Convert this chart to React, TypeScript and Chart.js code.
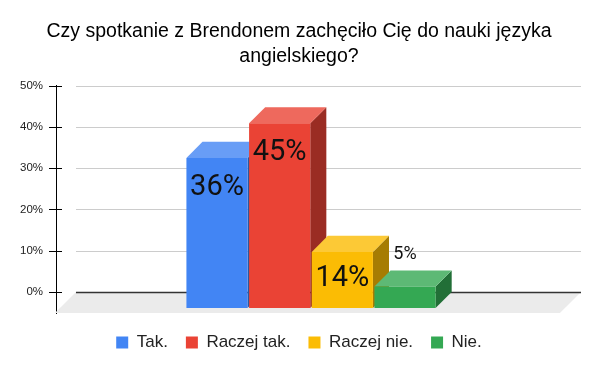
import React, { useEffect, useRef } from 'react';
import { Chart, registerables } from 'chart.js';

Chart.register(...registerables);

const TITLE_LINES = ['Czy spotkanie z Brendonem zachęciło Cię do nauki języka', 'angielskiego?'];
const CATEGORIES = [''];
const SERIES_NAMES = ['Tak.', 'Raczej tak.', 'Raczej nie.', 'Nie.'];
const SERIES_VALUES = [36.4, 44.8, 13.6, 5.2];
const SERIES_COLORS = ['#4285F4', '#EA4335', '#FBBC04', '#34A853'];
const TICK_VALUES = [0, 10, 20, 30, 40, 50];

const Y_MIN = -5.1;
const Y_MAX = 50;
const DEPTH_PCT = 3.9;

function hexToRgb(hex: string) {
  const h = hex.replace('#', '');
  return [parseInt(h.slice(0, 2), 16), parseInt(h.slice(2, 4), 16), parseInt(h.slice(4, 6), 16)];
}
function shade(hex: string, f: number) {
  const [r, g, b] = hexToRgb(hex);
  return `rgb(${Math.round(r * f)},${Math.round(g * f)},${Math.round(b * f)})`;
}
function tint(hex: string, f: number) {
  const [r, g, b] = hexToRgb(hex);
  return `rgb(${Math.round(r + (255 - r) * f)},${Math.round(g + (255 - g) * f)},${Math.round(b + (255 - b) * f)})`;
}

const threeD = {
  id: 'threeD',
  beforeDatasetsDraw(chart: any) {
    const { ctx, chartArea: ca, scales } = chart;
    const y = scales.y;
    const yf = scales.yf;
    const y0 = y.getPixelForValue(0);
    const floorDepth = ca.bottom - y0;
    const backL = ca.left + 20;
    const backR = ca.right + 15;
    ctx.save();
    // floor
    ctx.fillStyle = '#ebebeb';
    ctx.beginPath();
    ctx.moveTo(backL - floorDepth, ca.bottom);
    ctx.lineTo(backR - floorDepth, ca.bottom);
    ctx.lineTo(backR, y0);
    ctx.lineTo(backL, y0);
    ctx.closePath();
    ctx.fill();
    // grid lines and tick marks
    TICK_VALUES.forEach((v) => {
      const py = Math.round(y.getPixelForValue(v)) + 0.5;
      if (v !== 0) {
        ctx.strokeStyle = '#cccccc';
        ctx.lineWidth = 1;
        ctx.beginPath();
        ctx.moveTo(backL, py);
        ctx.lineTo(backR, py);
        ctx.stroke();
      }
      ctx.strokeStyle = '#000';
      ctx.lineWidth = 1;
      ctx.beginPath();
      ctx.moveTo(ca.left - 7, py);
      ctx.lineTo(ca.left + 6, py);
      ctx.stroke();
    });
    // zero line
    const pz = Math.round(y0) + 0.5;
    ctx.strokeStyle = '#333';
    ctx.lineWidth = 1.4;
    ctx.beginPath();
    ctx.moveTo(backL, pz);
    ctx.lineTo(backR, pz);
    ctx.stroke();
    // bar sides and tops
    const d = yf.getPixelForValue(0) - y0;
    chart.data.datasets.forEach((ds: any, i: number) => {
      const meta = chart.getDatasetMeta(i);
      meta.data.forEach((bar: any) => {
        const p = bar.getProps(['x', 'y', 'base', 'width'], true);
        const l = p.x - p.width / 2;
        const r = p.x + p.width / 2;
        const t = p.y;
        const b = p.base;
        ctx.fillStyle = shade(SERIES_COLORS[i], 0.66);
        ctx.beginPath();
        ctx.moveTo(r, t);
        ctx.lineTo(r + d, t - d);
        ctx.lineTo(r + d, b - d);
        ctx.lineTo(r, b);
        ctx.closePath();
        ctx.fill();
        ctx.fillStyle = tint(SERIES_COLORS[i], 0.2);
        ctx.beginPath();
        ctx.moveTo(l, t);
        ctx.lineTo(r, t);
        ctx.lineTo(r + d, t - d);
        ctx.lineTo(l + d, t - d);
        ctx.closePath();
        ctx.fill();
      });
    });
    ctx.restore();
  },
  afterDatasetsDraw(chart: any) {
    const { ctx, scales } = chart;
    const d = scales.yf.getPixelForValue(0) - scales.y.getPixelForValue(0);
    ctx.save();
    ctx.textAlign = 'center';
    ctx.textBaseline = 'middle';
    ctx.fillStyle = '#111';
    chart.data.datasets.forEach((ds: any, i: number) => {
      const meta = chart.getDatasetMeta(i);
      meta.data.forEach((bar: any, j: number) => {
        const p = bar.getProps(['x', 'y', 'base'], true);
        const text = Math.round(ds.data[j]) + '%';
        const h = p.base - p.y;
        if (h >= 40) {
          ctx.font = '29px Roboto';
          const cy = Math.min(p.y + 30, (p.y + p.base) / 2 - 1);
          ctx.fillText(text, p.x, cy);
        } else {
          ctx.font = '18px Roboto';
          ctx.fillText(text, p.x, p.y - d - 16);
        }
      });
    });
    ctx.restore();
  },
};

export default function App() {
  const ref = useRef<HTMLCanvasElement | null>(null);
  useEffect(() => {
    document.body.style.margin = '0';
    const chart = new Chart(ref.current as HTMLCanvasElement, {
      type: 'bar',
      data: {
        labels: CATEGORIES,
        datasets: SERIES_NAMES.map((name, i) => ({
          label: name,
          data: [SERIES_VALUES[i]],
          backgroundColor: SERIES_COLORS[i],
          borderWidth: 0,
          yAxisID: 'yf',
          categoryPercentage: 0.4915,
          barPercentage: 0.976,
        })),
      },
      options: {
        animation: false,
        responsive: true,
        maintainAspectRatio: false,
        layout: { padding: { left: 8, right: 10, top: 0, bottom: 10 } },
        plugins: {
          title: {
            display: true,
            text: TITLE_LINES,
            color: '#000',
            font: { family: "'Liberation Sans', Arial, sans-serif", size: 19.5, weight: 'normal', lineHeight: 1.3 },
            padding: { top: 19, bottom: 16 },
          },
          legend: {
            position: 'bottom',
            labels: {
              boxWidth: 12,
              boxHeight: 12,
              padding: 18,
              color: '#222',
              font: { family: "'Liberation Sans', Arial, sans-serif", size: 17 },
            },
          },
          tooltip: { enabled: false },
        },
        scales: {
          x: {
            type: 'category',
            display: true,
            grid: { display: false, drawTicks: false },
            border: { display: false },
            ticks: { display: false },
            afterFit: (s: any) => { s.height = 3; },
          },
          y: {
            type: 'linear',
            position: 'left',
            min: Y_MIN,
            max: Y_MAX,
            afterFit: (s: any) => { s.width = 48; },
            afterBuildTicks: (s: any) => { s.ticks = TICK_VALUES.map((v) => ({ value: v })); },
            grid: { display: false, drawTicks: false },
            border: { display: true, color: '#000', width: 1 },
            ticks: {
              padding: 13,
              color: '#222',
              font: { family: "'Liberation Sans', Arial, sans-serif", size: 11.5 },
              callback: (v: any) => v + '%',
            },
          },
          yr: {
            type: 'linear',
            position: 'right',
            display: true,
            min: Y_MIN,
            max: Y_MAX,
            grid: { display: false, drawTicks: false },
            border: { display: false },
            ticks: { display: false },
            afterFit: (s: any) => { s.width = 24; },
          },
          yf: {
            type: 'linear',
            display: false,
            min: Y_MIN + DEPTH_PCT,
            max: Y_MAX + DEPTH_PCT,
          },
        },
      },
      plugins: [threeD],
    } as any);
    return () => chart.destroy();
  }, []);
  return (
    <div style={{ position: 'relative', width: 600, height: 371 }}>
      <canvas ref={ref} />
    </div>
  );
}
